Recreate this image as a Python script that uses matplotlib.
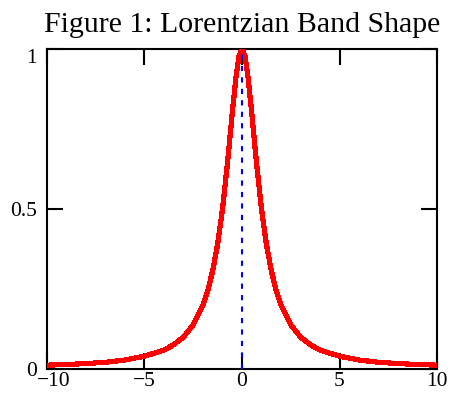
import matplotlib
matplotlib.use('Agg')
import matplotlib.pyplot as plt
import matplotlib.transforms as mtrans
import numpy as np

# values (band shape, peak normalised to 1)
x_left = [-10, -9, -8, -7, -6, -5, -4, -3.5, -3, -2.5, -2, -1.75, -1.5,
          -1.25, -1, -0.75, -0.5, -0.3, -0.15, 0]
y_left = [0.012, 0.014, 0.017, 0.021, 0.028, 0.040, 0.059, 0.076, 0.100,
          0.138, 0.200, 0.246, 0.308, 0.390, 0.500, 0.640, 0.800, 0.917,
          0.978, 1.000]
x_right = [0.15, 0.3, 0.5, 0.75, 1, 1.25, 1.5, 1.75, 2, 2.5, 3, 3.5, 4, 5,
           6, 7, 8, 9, 10]
y_right = [0.978, 0.917, 0.800, 0.640, 0.500, 0.390, 0.308, 0.246, 0.200,
           0.138, 0.100, 0.076, 0.059, 0.040, 0.028, 0.021, 0.017, 0.014,
           0.012]
centre_x = [0, 0]
centre_y = [0, 1]

xticks = [-10, -5, 0, 5, 10]
xlabels = ['\u221210', '\u22125', '0', '5', '10']
yticks = [0, 0.5, 1]
ylabels = ['0', '0.5', '1']

plt.rcParams['font.family'] = ['Liberation Serif', 'DejaVu Serif']

fig = plt.figure(figsize=(4.52, 3.96), dpi=100)
ax = fig.add_axes([47/452, 27/396, 390/452, 320/396])

x = np.array(x_left + x_right)
y = np.array(y_left + y_right)
ax.plot(x, y, '-', color='#ff0000', linewidth=3, antialiased=False, zorder=3)
ax.plot(centre_x, centre_y, color='#0000ff', linewidth=1.5,
        dashes=(2.5, 3), zorder=4)

ax.set_xlim([-10, 10])
ax.set_ylim([0, 1])
ax.set_xticks(xticks)
ax.set_xticklabels(xlabels)
ax.set_yticks(yticks)
ax.set_yticklabels(ylabels)

for sp in ax.spines.values():
    sp.set_linewidth(1.5)

ax.tick_params(axis='both', which='major', direction='in', length=11.5,
               width=1.5, labelsize=15.5, top=True, right=True)
ax.tick_params(axis='x', pad=2.5)
ax.tick_params(axis='y', pad=7)

# end labels nudged like the original (kept clear of each other)
xlab = ax.get_xticklabels()
xlab[0].set_transform(xlab[0].get_transform() +
                      mtrans.ScaledTranslation(0.065, 0, fig.dpi_scale_trans))
ylab = ax.get_yticklabels()
ylab[0].set_va('center')
ylab[0].set_transform(ylab[0].get_transform() +
                      mtrans.ScaledTranslation(0, -0.03, fig.dpi_scale_trans))
ylab[2].set_va('top')

ax.set_title('Figure 1: Lorentzian Band Shape', fontsize=21.5, pad=12.5)

plt.savefig('out.png', dpi=100)
